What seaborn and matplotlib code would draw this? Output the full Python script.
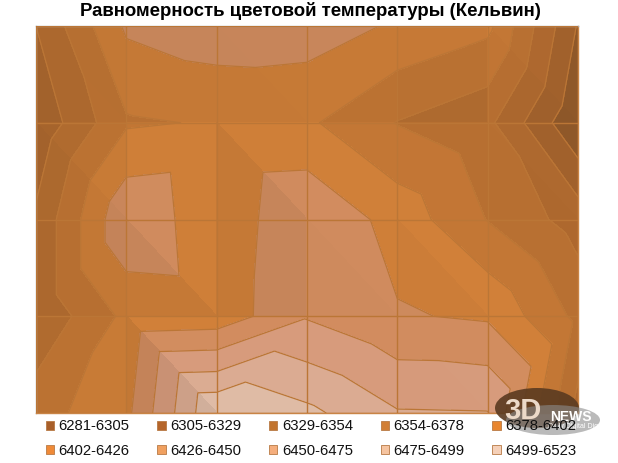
import numpy as np
import matplotlib
matplotlib.use("Agg")
import matplotlib.pyplot as plt
import matplotlib.tri as mtri
from matplotlib.patches import Patch, Ellipse
import seaborn as sns

title = "Равномерность цветовой температуры (Кельвин)"
band_edges = [6281, 6305, 6329, 6354, 6378, 6402, 6426, 6450, 6475, 6499, 6523]
band_labels = ["6281-6305", "6305-6329", "6329-6354", "6354-6378", "6378-6402",
               "6402-6426", "6426-6450", "6450-6475", "6475-6499", "6499-6523"]

# measured grid, 7 columns by 5 rows, top row first
row_0 = [6354, 6430, 6441, 6438, 6423, 6408, 6303]
row_1 = [6335, 6399, 6404, 6406, 6377, 6360, 6283]
row_2 = [6358, 6447, 6408, 6447, 6417, 6377, 6343]
row_3 = [6358, 6408, 6411, 6448, 6428, 6423, 6372]
row_4 = [6392, 6420, 6523, 6505, 6477, 6476, 6345]

splits = ["\\/\\//\\",
          "\\/\\\\/\\",
          "/\\/\\\\/",
          "/\\//\\/"]

band_colors = ["#8a5528", "#9c5e2b", "#a8652d", "#b26c30", "#bd7333",
               "#ca7c37", "#cb885c", "#d09678", "#d4a68d", "#d8b5a0"]
legend_colors = ["#a85f2a", "#b5652a", "#c2752f", "#d17f36", "#e8862f",
                 "#ef8a38", "#f0a060", "#f5ae7d", "#f6c4a0", "#f5d0b8"]

z = np.array([row_0, row_1, row_2, row_3, row_4], dtype=float)
n_rows, n_cols = z.shape

sns.set_theme(style="whitegrid")
plt.rcParams["font.family"] = ["Liberation Sans", "DejaVu Sans"]

fig = plt.figure(figsize=(6.18, 4.63), dpi=100)
ax = fig.add_axes([36 / 618, 1 - 413 / 463, 542 / 618, 387 / 463])

xx, yy = np.meshgrid(np.arange(n_cols), np.arange(n_rows))
x = xx.ravel()
y = yy.ravel()
v = z.ravel()

triangles = []
for r in range(n_rows - 1):
    for c in range(n_cols - 1):
        a = r * n_cols + c
        b = a + 1
        d = a + n_cols
        e = d + 1
        if splits[r][c] == "\\":
            triangles += [[a, b, e], [a, e, d]]
        else:
            triangles += [[a, b, d], [b, e, d]]


def facet_shade(tri_idx):
    # flat lighting: slopes going down the picture are brighter, to the right darker
    A = np.c_[x[tri_idx], y[tri_idx], np.ones(3)]
    gx, gy, _ = np.linalg.solve(A, v[tri_idx])
    return 1 + 0.035 * np.tanh((gy - gx) / 45)


for tri_idx in triangles:
    tri_idx = np.array(tri_idx)
    shade = facet_shade(tri_idx)
    cols = [np.clip(np.array(matplotlib.colors.to_rgb(col)) * shade, 0, 1) for col in band_colors]
    one = mtri.Triangulation(x[tri_idx], y[tri_idx], [[0, 1, 2]])
    cs = ax.tricontourf(one, v[tri_idx], levels=band_edges, colors=cols, extend="both")
    cs.set_edgecolor("face")
    cs.set_linewidth(0.3)

whole = mtri.Triangulation(x, y, triangles)
ax.tricontour(whole, v, levels=band_edges[1:-1], colors="#bb7636", linewidths=0.9)

ax.set_xlim(0, n_cols - 1)
ax.set_ylim(n_rows - 1, 0)
ax.set_xticks(range(n_cols))
ax.set_yticks(range(n_rows))
ax.tick_params(labelbottom=False, labelleft=False, length=0)
ax.grid(True, color="#bb7636", linewidth=1.0)
ax.set_axisbelow(False)
for side, spine in ax.spines.items():
    spine.set_visible(True)
    spine.set_linewidth(1.0)
    spine.set_color("#a8a8a8" if side in ("top", "left") else "#c98445")

fig.text(310 / 618, 1 - 11 / 463, title, ha="center", va="center",
         fontsize=13.45, fontweight="bold", color="black")

handles = [Patch(facecolor=c, edgecolor="#b87a45", linewidth=0.6) for c in legend_colors]
# fill columns so the rows read left to right
order = [i for pair in zip(range(5), range(5, 10)) for i in pair]
fig.legend([handles[i] for i in order], [band_labels[i] for i in order],
           ncol=5, frameon=False, fontsize=10.7, loc="center",
           bbox_to_anchor=(311 / 618, 1 - 438.5 / 463),
           handlelength=0.55, handleheight=0.55, handletextpad=0.3,
           columnspacing=1.88, labelspacing=0.68, labelcolor="#111111")

# site watermark, bottom right
fig.add_artist(Ellipse((537 / 618, 1 - 408 / 463), 84 / 618, 40 / 463, transform=fig.transFigure,
                       facecolor="#5a3a20", edgecolor="none", alpha=0.9))
fig.add_artist(Ellipse((553 / 618, 1 - 420 / 463), 94 / 618, 30 / 463, transform=fig.transFigure,
                       facecolor="#8c8c8c", edgecolor="none", alpha=0.6))
fig.text(504 / 618, 1 - 411 / 463, "3D", fontsize=21, fontweight="bold", color="#ecd9c8",
         ha="left", va="center")
fig.text(550 / 618, 1 - 417 / 463, "NEWS", fontsize=10, fontweight="bold", color="white",
         ha="left", va="center")
fig.text(548 / 618, 1 - 427 / 463, "Daily Digital Digest", fontsize=5, color="white",
         ha="left", va="center")

fig.savefig("out.png", dpi=100)
